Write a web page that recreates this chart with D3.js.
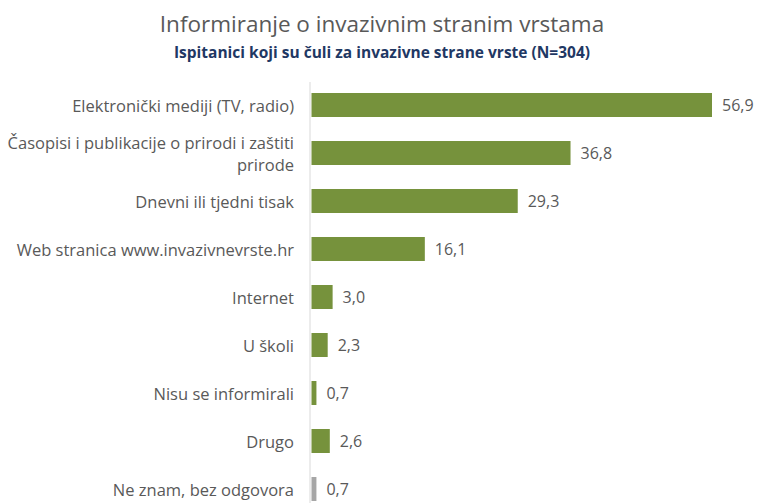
<!DOCTYPE html>
<html>
<head>
<meta charset="utf-8">
<script src="https://cdn.jsdelivr.net/npm/d3@7"></script>
<style>
  body { margin: 0; background: #fff; }
  text { font-family: "Open Sans", Lato, sans-serif; }
</style>
</head>
<body>
<svg id="chart" width="757" height="503"></svg>
<script>
var categories = [
  ["Elektronički mediji (TV, radio)"],
  ["Časopisi i publikacije o prirodi i zaštiti", "prirode"],
  ["Dnevni ili tjedni tisak"],
  ["Web stranica www.invazivnevrste.hr"],
  ["Internet"],
  ["U školi"],
  ["Nisu se informirali"],
  ["Drugo"],
  ["Ne znam, bez odgovora"]
];
var values = [56.9, 36.8, 29.3, 16.1, 3.0, 2.3, 0.7, 2.6, 0.7];
var barColors = ["#76923c", "#76923c", "#76923c", "#76923c", "#76923c", "#76923c", "#76923c", "#76923c", "#a6a6a6"];

var svg = d3.select("#chart");

// titles
svg.append("text")
  .attr("x", 382).attr("y", 32)
  .attr("text-anchor", "middle")
  .attr("font-size", 22.5)
  .attr("fill", "#595959")
  .text("Informiranje o invazivnim stranim vrstama");

svg.append("text")
  .attr("x", 382).attr("y", 58)
  .attr("text-anchor", "middle")
  .attr("font-size", 15.5)
  .attr("font-weight", "bold")
  .attr("fill", "#1f3864")
  .text("Ispitanici koji su čuli za invazivne strane vrste (N=304)");

var x0 = 311.5;
var x = d3.scaleLinear().domain([0, 56.9]).range([x0, 712]);
var y = d3.scaleBand()
  .domain(d3.range(values.length))
  .range([81, 513])
  .paddingInner(0.5)
  .paddingOuter(0.25);

// axis line
svg.append("line")
  .attr("x1", 310).attr("x2", 310)
  .attr("y1", 82).attr("y2", 503)
  .attr("stroke", "#d9d9d9");

var rows = svg.selectAll("g.row")
  .data(values)
  .enter()
  .append("g")
  .attr("class", "row");

rows.append("rect")
  .attr("x", x0)
  .attr("y", function (d, i) { return y(i); })
  .attr("height", y.bandwidth())
  .attr("width", function (d) { return x(d) - x0; })
  .attr("fill", function (d, i) { return barColors[i]; });

rows.append("text")
  .attr("x", function (d) { return x(d) + 10; })
  .attr("y", function (d, i) { return y(i) + y.bandwidth() / 2; })
  .attr("dy", "0.35em")
  .attr("font-size", 16)
  .attr("fill", "#595959")
  .text(function (d) { return d3.format(".1f")(d).replace(".", ","); });

// category labels
rows.each(function (d, i) {
  var lines = categories[i];
  var cy = y(i) + y.bandwidth() / 2;
  var t = d3.select(this).append("text")
    .attr("x", 294)
    .attr("text-anchor", "end")
    .attr("font-size", 16.5)
    .attr("fill", "#595959");
  lines.forEach(function (line, k) {
    t.append("tspan")
      .attr("x", 294)
      .attr("y", cy + 1 + (k - (lines.length - 1) / 2) * 22)
      .attr("dy", "0.35em")
      .text(line);
  });
});
</script>
</body>
</html>
